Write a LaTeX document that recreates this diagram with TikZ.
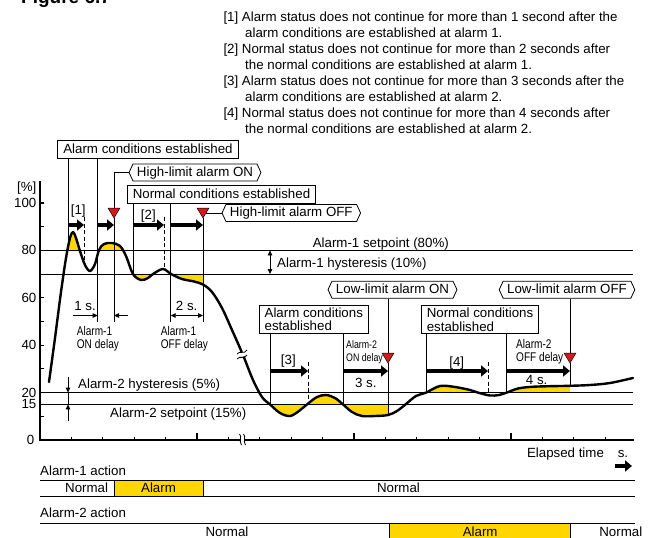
\documentclass[tikz,border=0pt]{standalone}
\usepackage{fontspec}
\setmainfont{Liberation Sans}
\newfontfamily\narrowfont[FakeStretch=0.8]{Liberation Sans}
\usepackage{tikz}
\usetikzlibrary{arrows.meta}
\usetikzlibrary{shapes.symbols}
\definecolor{alarmyellow}{RGB}{255,214,0}
\definecolor{markred}{RGB}{214,24,30}
\newcommand{\redmark}[3]{ \filldraw[fill=markred, draw=black, line width=0.5pt] ( #1 - 6 , #2 ) -- ( #1 + 6 , #2 ) -- ( #1 , #2 + 10 ) -- cycle; \coordinate (#3top) at ( #1 , #2 ); \coordinate (#3tip) at ( #1 , #2 + 10 );}
\newcommand{\spanarrow}[3]{ \draw[spanarrow] ( #1 , #3 ) -- ( #2 , #3 );}
\newcommand{\xtick}[2]{ \draw[axisline] ( #1 , 440 ) -- ( #1 , 440 - #2 );}
\newcommand{\ytick}[1]{ \draw[axisline] ( 40 , #1 ) -- ( 43.5 , #1 );}
\tikzset{
  lbl/.style={inner sep=0pt},
  narrowlbl/.style={inner sep=0pt, anchor=base west, font=\narrowfont\fontsize{12.6}{13}\selectfont},
  smallnarrowlbl/.style={narrowlbl, font=\narrowfont\fontsize{11}{12}\selectfont},
  labelbox/.style={draw, fill=white, line width=0.8pt, inner xsep=5.5pt, inner ysep=3pt, text height=9.5pt, text depth=2.5pt},
  twolinebox/.style={draw, fill=white, line width=0.8pt, align=left, inner xsep=5.5pt, inner ysep=2.5pt, font=\fontsize{13.3}{13.3}\selectfont},
  tagbox/.style={labelbox, shape=signal, signal to=west and east, signal pointer angle=130, inner xsep=4pt, inner ysep=2.5pt},
  alarmbar/.style={draw, fill=alarmyellow, line width=0.8pt, minimum height=16pt, inner sep=0pt},
  connector/.style={line width=0.9pt},
  refline/.style={line width=0.9pt},
  axisline/.style={line width=1.1pt},
  dashedline/.style={line width=0.9pt, dash pattern=on 4pt off 2.5pt},
  spanarrow/.style={line width=4pt, -{Triangle[length=7pt,width=11pt]}},
  smallarrow/.style={line width=0.8pt, -{Triangle[length=5pt,width=4.5pt]}},
  pvline/.style={line width=2.4pt, line join=round, line cap=round},
  pvcurve/.style={insert path={plot[smooth, tension=0.55] coordinates {
    (49,382) (55,338) (61,292) (66,258) (70,238) (73,232) (76,238) (80,251)
    (85,265) (90,271) (95,264) (99,250) (104,244) (112,243) (120,246) (126,256)
    (133,274) (141,280) (148,278) (153,274) (163,269) (171,274) (182,279) (194,281.5)
    (203,284.5) (212,292) (222,308) (232,330) (243,355) (253,380) (262,397) (270,404.4)
    (280,413) (290,416) (299,411) (307,404.4) (317,397) (326,395) (335,398) (343,404.4)
    (352,412) (362,416) (375,416) (388,415) (397,411) (406,404) (416,396) (426,392.6)
    (440,386) (455,387) (470,390) (478,392.6) (490,395.5) (499,395) (506.7,392.6) (518,388.5)
    (532,386.8) (550,386.2) (570,385.8) (590,385) (610,383) (633,378)}}}
}

\begin{document}
\begin{tikzpicture}[x=1pt, y=-1pt, font=\fontsize{13.3}{16}\selectfont]
        \useasboundingbox (0,0) rectangle (651,538);

        % title, cut by the page edge
        \node[lbl, anchor=base west, font=\bfseries\fontsize{19}{22}\selectfont] (title) at (21,3.5) {Figure 6.7};

        % notes
        \node[lbl, anchor=base west] (note1a) at (223.3,21.3) {[1] Alarm status does not continue for more than 1 second after the};
        \node[lbl, anchor=base west] (note1b) at (245,37.4) {alarm conditions are established at alarm 1.};
        \node[lbl, anchor=base west] (note2a) at (223.3,53.5) {[2] Normal status does not continue for more than 2 seconds after};
        \node[lbl, anchor=base west] (note2b) at (245,69.6) {the normal conditions are established at alarm 1.};
        \node[lbl, anchor=base west] (note3a) at (223.3,85.6) {[3] Alarm status does not continue for more than 3 seconds after the};
        \node[lbl, anchor=base west] (note3b) at (245,101.7) {alarm conditions are established at alarm 2.};
        \node[lbl, anchor=base west] (note4a) at (223.3,117.8) {[4] Normal status does not continue for more than 4 seconds after};
        \node[lbl, anchor=base west] (note4b) at (245,133.9) {the normal conditions are established at alarm 2.};

        % yellow areas above a line
        \begin{scope}
        \clip[pvcurve] -- (633,460) -- (49,460) -- cycle;
        \fill[alarmyellow] (60,200) rectangle (130,250.4);
        \fill[alarmyellow] (300,370) rectangle (343,404.4);
        \fill[alarmyellow] (426,360) rectangle (490,392.6);
        \fill[alarmyellow] (506.7,360) rectangle (570,392.6);
        \end{scope}
        % yellow areas below a line
        \begin{scope}
        \clip[pvcurve] -- (633,150) -- (49,150) -- cycle;
        \fill[alarmyellow] (133,274) rectangle (203,300);
        \fill[alarmyellow] (270,404.4) rectangle (388,430);
        \end{scope}

        % setpoint lines
        \draw[refline] (40,250.4) -- (633,250.4);
        \draw[refline] (40,274) -- (633,274);
        \draw[refline] (40,392.6) -- (633,392.6);
        \draw[refline] (40,404.4) -- (633,404.4);

        % axes
        \draw[axisline] (40,181) -- (40,440) -- (634,440);
        \ytick{203}
        \ytick{226.7}
        \ytick{297.8}
        \ytick{321.5}
        \ytick{345.2}
        \ytick{368.9}
        \ytick{416.3}
        \xtick{71.4}{3.3}
        \xtick{102.8}{3.3}
        \xtick{134.2}{3.3}
        \xtick{165.6}{3.3}
        \xtick{197}{7.3}
        \xtick{228.4}{3.3}
        \xtick{259.8}{3.3}
        \xtick{291.2}{3.3}
        \xtick{322.6}{3.3}
        \xtick{354}{7.3}
        \xtick{385.4}{3.3}
        \xtick{416.8}{3.3}
        \xtick{448.2}{3.3}
        \xtick{479.6}{3.3}
        \xtick{511}{7.3}
        \xtick{542.4}{3.3}
        \xtick{573.8}{3.3}
        \xtick{605.2}{3.3}

        \node[lbl, anchor=base east] (unitpct) at (36.5,191.2) {[\%]};
        \node[lbl, anchor=base east] (ylab100) at (36.5,207.5) {100};
        \node[lbl, anchor=base east] (ylab80) at (36.5,254.9) {80};
        \node[lbl, anchor=base east] (ylab60) at (36.5,302.3) {60};
        \node[lbl, anchor=base east] (ylab40) at (36.5,349.7) {40};
        \node[lbl, anchor=base east] (ylab20) at (36.5,397.1) {20};
        \node[lbl, anchor=base east] (ylab15) at (36.5,408.9) {15};
        \node[lbl, anchor=base east] (ylab0) at (34.5,444.5) {0};

        % process value
        \draw[pvline, pvcurve];

        % breaks
        \fill[white] (237,354) -- (247,350) -- (247,355) -- (237,359) -- cycle;
        \draw[line width=0.8pt] (237,354) .. controls (240,350) and (244,355) .. (247,350);
        \draw[line width=0.8pt] (237,359) .. controls (240,355) and (244,360) .. (247,355);
        \fill[white] (240.5,437.5) rectangle (244.5,442.5);
        \draw[line width=0.8pt] (239.5,434) .. controls (242.5,437) and (238.5,441) .. (241.5,445);
        \draw[line width=0.8pt] (243.5,434) .. controls (246.5,437) and (242.5,441) .. (245.5,445);

        % setpoint and hysteresis labels
        \node[lbl, anchor=base east] (sp1) at (449,247.5) {Alarm-1 setpoint (80\%)};
        \node[lbl, anchor=base west] (hys1) at (277,267.2) {Alarm-1 hysteresis (10\%)};
        \node[lbl, anchor=base west] (hys2) at (78,388.5) {Alarm-2 hysteresis (5\%)};
        \node[lbl, anchor=base west] (sp2) at (110,417.5) {Alarm-2 setpoint (15\%)};
        \draw[line width=0.8pt, {Triangle[length=5pt,width=4.5pt]}-{Triangle[length=5pt,width=4.5pt]}] (270,250.4) -- (270,274);
        \draw[smallarrow] (68,377) -- (68,392.6);
        \draw[connector] (68,392.6) -- (68,404.4);
        \draw[smallarrow] (68,421) -- (68,404.4);

        % boxes and tags
        \node[labelbox] (alarmcond1) at (148,149.5) {Alarm conditions established};
        \node[labelbox] (normalcond1) at (221.5,194.7) {Normal conditions established};
        \node[tagbox] (hialarmon) at (195,172.5) {High-limit alarm ON};
        \node[tagbox] (hialarmoff) at (291.3,213) {High-limit alarm OFF};
        \node[twolinebox] (alarmcond2) at (313.8,319.2) {Alarm conditions\\established};
        \node[twolinebox] (normalcond2) at (480,319.6) {Normal conditions\\established};
        \node[tagbox] (loalarmon) at (392.5,289.7) {Low-limit alarm ON};
        \node[tagbox] (loalarmoff) at (567,289.7) {Low-limit alarm OFF};

        % red marks
        \redmark{114}{208}{m1}
        \redmark{203}{208}{m2}
        \redmark{388}{353}{m3}
        \redmark{570}{353}{m4}

        % line ends
        \coordinate (up1) at (68.3,250.4);
        \coordinate (on1end) at (97.7,321.7);
        \coordinate (dly1) at (114,321.7);
        \coordinate (down1) at (133,274);
        \coordinate (off1end) at (170.7,321.7);
        \coordinate (dly2) at (203,321.7);
        \coordinate (m2side) at (206,213);
        \coordinate (down2) at (270,404.4);
        \coordinate (on2end) at (343,404.4);
        \coordinate (dly3) at (388,415);
        \coordinate (up2) at (426,392.6);
        \coordinate (off2end) at (506.7,392.6);
        \coordinate (dly4) at (570,386);

        % alarm 1
        \draw[connector] (alarmcond1.south -| up1) -- (up1);
        \draw[connector] (alarmcond1.south -| on1end) -- (on1end);
        \draw[connector] (hialarmon.west) -| (m1top);
        \draw[connector] (m1tip) -- (dly1);
        \draw[connector] (normalcond1.south -| down1) -- (down1);
        \draw[connector] (normalcond1.south -| off1end) -- (off1end);
        \draw[connector] (hialarmoff.west) -- (m2side);
        \draw[connector] (m2tip) -- (dly2);
        \draw[dashedline] (84,217) -- (84,262);
        \draw[dashedline] (164,217) -- (164,267);
        \spanarrow{68.3}{84}{225}
        \spanarrow{97.7}{114}{225}
        \spanarrow{133}{164}{225}
        \spanarrow{170.7}{203}{225}
        \node[lbl, anchor=base] (lab1) at (78.3,214.5) {[1]};
        \node[lbl, anchor=base] (lab2) at (148.3,219.5) {[2]};
        \draw[smallarrow] (73,315.5) -- (on1end |- 0,315.5);
        \draw[smallarrow] (128,315.5) -- (dly1 |- 0,315.5);
        \draw[line width=0.8pt, {Triangle[length=5pt,width=4.5pt]}-{Triangle[length=5pt,width=4.5pt]}] (off1end |- 0,315.5) -- (dly2 |- 0,315.5);
        \node[lbl, anchor=base] (onsec1) at (85,310.5) {1 s.};
        \node[lbl, anchor=base] (offsec1) at (186.7,310.5) {2 s.};
        \node[narrowlbl] (ondly1a) at (76.7,335.2) {Alarm-1};
        \node[narrowlbl] (ondly1b) at (76.7,348.5) {ON delay};
        \node[narrowlbl] (offdly1a) at (160.7,335.2) {Alarm-1};
        \node[narrowlbl] (offdly1b) at (160.7,348.5) {OFF delay};

        % alarm 2
        \draw[connector] (alarmcond2.south -| down2) -- (down2);
        \draw[connector] (alarmcond2.south -| on2end) -- (on2end);
        \draw[connector] (loalarmon.south -| m3top) -- (m3top);
        \draw[connector] (m3tip) -- (dly3);
        \draw[connector] (normalcond2.south -| up2) -- (up2);
        \draw[connector] (normalcond2.south -| off2end) -- (off2end);
        \draw[connector] (loalarmoff.south -| m4top) -- (m4top);
        \draw[connector] (m4tip) -- (dly4);
        \draw[dashedline] (308,362) -- (308,400);
        \draw[dashedline] (488,362) -- (488,395);
        \spanarrow{270}{308}{371}
        \spanarrow{343}{388}{371}
        \spanarrow{426}{488}{371}
        \spanarrow{506.7}{570}{371}
        \node[lbl, anchor=base] (lab3) at (288.3,364.3) {[3]};
        \node[lbl, anchor=base] (lab4) at (456.7,366) {[4]};
        \node[lbl, anchor=base] (onsec2) at (365.8,387.5) {3 s.};
        \node[lbl, anchor=base] (offsec2) at (536.7,384.2) {4 s.};
        \node[smallnarrowlbl] (ondly2a) at (346,348.5) {Alarm-2};
        \node[smallnarrowlbl] (ondly2b) at (346,361) {ON delay};
        \node[narrowlbl] (offdly2a) at (516,348.7) {Alarm-2};
        \node[narrowlbl] (offdly2b) at (516,361.2) {OFF delay};

        % time axis
        \node[lbl, anchor=base] (elapsed) at (565.5,457.2) {Elapsed time};
        \node[lbl, anchor=base] (unitsec) at (623,457.5) {s.};
        \draw[spanarrow] (615,466) -- (632,466);

        % alarm-1 action
        \node[lbl, anchor=base west] (act1) at (40,475.2) {Alarm-1 action};
        \draw[refline] (40,480) -- (635,480);
        \draw[refline] (40,496) -- (635,496);
        \node[alarmbar, minimum width=89pt] (act1alarm) at (158.5,488) {Alarm};
        \node (act1normala) at (86.6,488) {Normal};
        \node (act1normalb) at (398.5,488) {Normal};

        % alarm-2 action
        \node[lbl, anchor=base west] (act2) at (40,517.2) {Alarm-2 action};
        \draw[refline] (40,523.3) -- (635,523.3);
        \draw[refline] (40,539.3) -- (635,539.3);
        \node[alarmbar, minimum width=181.2pt] (act2alarm) at (480.2,531.3) {Alarm};
        \node (act2normala) at (227,531.3) {Normal};
        \node (act2normalb) at (620.8,531.3) {Normal};

    \end{tikzpicture}
\end{document}
